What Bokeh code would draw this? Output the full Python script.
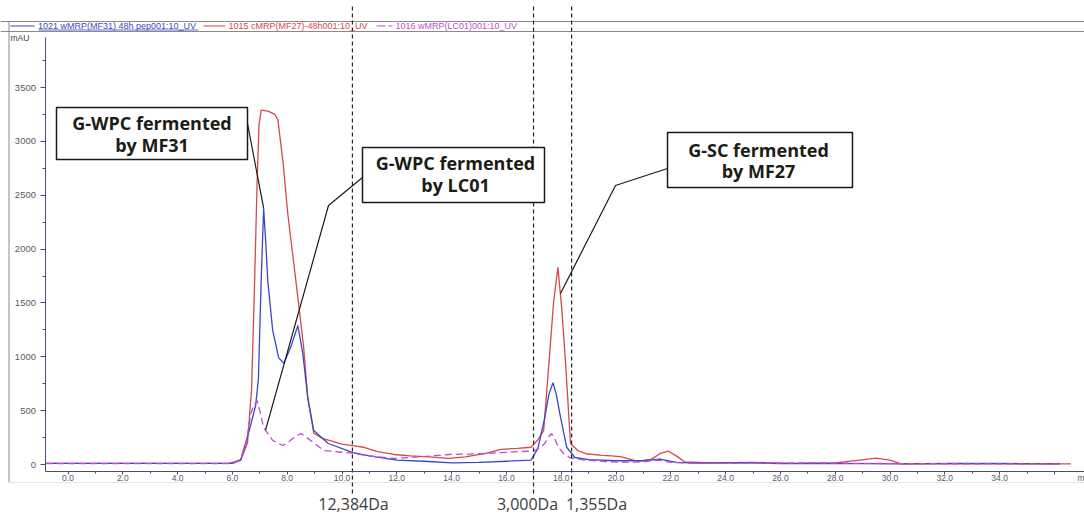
import numpy as np
from bokeh.plotting import figure
from bokeh.models import Range1d, LinearAxis, FixedTicker, PrintfTickFormatter
from bokeh.core.properties import value
from bokeh.embed import file_html
from bokeh.resources import INLINE

# ---------------- data ----------------
series_names = ["1021 wMRP(MF31) 48h pep001:10_UV",
                "1015 cMRP(MF27)-48h001:10_UV",
                "1016 wMRP(LC01)001:10_UV"]

mf31_time = [-0.8, 5.9, 6.3, 6.6, 6.85, 6.95, 7.05, 7.14, 7.22, 7.29, 7.47, 7.69, 7.88,
             8.13, 8.39, 8.57, 8.75, 8.97, 9.5, 10.4, 11.0, 12.0, 13.0, 14.0, 15.0, 16.0,
             16.9, 17.15, 17.4, 17.55, 17.7, 17.82, 17.95, 18.2, 18.5, 19.0, 20.0, 21.0,
             21.6, 22.2, 23.0, 24.7, 26.0, 27.4, 29.0, 30.5, 32.2, 34.1, 36.2]
mf31_mau = [10, 10, 40, 300, 550, 800, 1700, 2380, 2050, 1710, 1245, 990, 940,
            1090, 1290, 1030, 620, 315, 195, 110, 80, 40, 30, 15, 20, 30,
            40, 150, 436, 650, 760, 650, 473, 160, 65, 45, 35, 35,
            50, 20, 12, 18, 8, 10, 8, 5, 10, 10, 5]

mf27_time = [-0.8, 6.0, 6.3, 6.55, 6.7, 6.8, 6.9, 6.97, 7.05, 7.3, 7.55, 7.66, 7.85,
             8.02, 8.2, 8.39, 8.6, 8.75, 8.97, 9.3, 9.6, 10.0, 10.4, 10.8, 11.3, 11.9,
             12.5, 13.2, 13.9, 14.5, 15.2, 15.8, 16.4, 16.9, 17.15, 17.36, 17.54, 17.72,
             17.88, 18.02, 18.16, 18.34, 18.6, 18.9, 19.5, 19.85, 20.2, 20.8, 21.3, 21.6,
             21.9, 22.2, 22.5, 23.5, 25.0, 26.5, 28.0, 28.9, 29.5, 30.0, 30.4, 32.0,
             34.0, 36.6]
mf27_mau = [10, 10, 40, 200, 700, 1600, 2600, 3150, 3290, 3280, 3250, 3200, 2800,
            2330, 1950, 1550, 1090, 620, 290, 240, 220, 190, 176, 160, 120, 93,
            80, 70, 56, 70, 100, 140, 150, 160, 230, 315, 900, 1500,
            1830, 1450, 940, 195, 130, 100, 85, 80, 70, 30, 50, 100,
            125, 80, 25, 15, 20, 10, 15, 40, 60, 40, 5, 8,
            5, 5]

lc01_time = [-0.8, 6.0, 6.3, 6.5, 6.67, 6.8, 6.9, 7.0, 7.14, 7.47, 7.84, 8.05, 8.25,
             8.5, 8.86, 9.34, 10.3, 11.0, 11.9, 12.8, 13.9, 15.0, 15.8, 16.5, 17.0,
             17.25, 17.4, 17.55, 17.65, 17.78, 17.9, 18.1, 18.3, 18.7, 19.5, 20.2,
             21.0, 21.5, 22.0, 23.0, 25.0, 27.4, 29.0, 31.0, 34.0, 36.2]
lc01_mau = [8, 8, 50, 200, 470, 560, 594, 500, 344, 223, 176, 210, 250,
            288, 223, 130, 107, 80, 56, 70, 93, 100, 110, 120, 125,
            160, 195, 260, 288, 230, 158, 100, 65, 45, 30, 20,
            25, 40, 20, 10, 12, 15, 10, 8, 5, 5]

cutoff_time = [10.38, 16.99, 18.38]
cutoff_labels = ["12,384Da", "3,000Da", "1,355Da"]

x_ticks = list(range(0, 37, 2))
x_minor = list(range(1, 37, 2))
y_ticks = list(range(0, 3501, 500))
y_minor = list(range(250, 3800, 500))

box_texts = [("G-WPC fermented", "by MF31"),
             ("G-WPC fermented", "by LC01"),
             ("G-SC fermented", "by MF27")]

# ---------------- layout helpers (page pixels -> data units) ----------------
W, H = 1084, 515
T0_PX, PX_PER_T = 67.5, 27.4
V0_PX, PX_PER_V = 464.0, 0.10771

def tx(px):
    return (px - T0_PX) / PX_PER_T

def vy(py):
    return (V0_PX - py) / PX_PER_V

BLUE, RED, MAG = "#3b47c4", "#d4484e", "#c54ad0"

p = figure(width=W, height=H, output_backend="svg", toolbar_location=None,
           x_range=Range1d(tx(0), tx(W)), y_range=Range1d(vy(H), vy(0)),
           x_axis_location=None, y_axis_location=None, min_border=0)
p.outline_line_color = None
p.grid.grid_line_color = None
p.background_fill_color = "white"
p.border_fill_color = "white"

axis_col = "#4a4a7c"
lab_col = "#5a5a66"
xaxis = LinearAxis(fixed_location=vy(470.5), bounds=(tx(45), tx(1084)),
                   ticker=FixedTicker(ticks=x_ticks, minor_ticks=x_minor),
                   formatter=PrintfTickFormatter(format="%.1f"),
                   major_label_overrides={36: ""})
xaxis.axis_line_color = axis_col
xaxis.major_tick_line_color = axis_col
xaxis.minor_tick_line_color = axis_col
xaxis.major_tick_out = 3
xaxis.major_tick_in = 0
xaxis.minor_tick_out = 2
xaxis.minor_tick_in = 0
xaxis.major_label_standoff = 1
xaxis.major_label_text_font = "Liberation Sans"
xaxis.major_label_text_font_size = "8.5px"
xaxis.major_label_text_color = lab_col
p.add_layout(xaxis, "below")

yaxis = LinearAxis(fixed_location=tx(44.5), bounds=(vy(470.5), vy(37)),
                   ticker=FixedTicker(ticks=y_ticks, minor_ticks=y_minor))
yaxis.axis_line_color = axis_col
yaxis.major_tick_line_color = axis_col
yaxis.minor_tick_line_color = axis_col
yaxis.major_tick_out = 5
yaxis.major_tick_in = 0
yaxis.minor_tick_out = 3
yaxis.minor_tick_in = 0
yaxis.major_label_standoff = 4
yaxis.major_label_text_font = "Liberation Sans"
yaxis.major_label_text_font_size = "9.5px"
yaxis.major_label_text_color = lab_col
p.add_layout(yaxis, "left")

# frame lines around header
p.segment(x0=[tx(0), tx(0)], y0=[vy(21), vy(31)], x1=[tx(W), tx(W)], y1=[vy(21), vy(31)],
          line_color="#8a8a8a", line_width=1)
p.segment(x0=[tx(8.5)], y0=[vy(21)], x1=[tx(8.5)], y1=[vy(482)], line_color="#8a8a8a", line_width=1)
p.segment(x0=[tx(8)], y0=[vy(482)], x1=[tx(W)], y1=[vy(482)], line_color="#e6e6e6", line_width=1)

# curves
p.line(mf27_time, mf27_mau, line_color=RED, line_width=1.3)
p.line(mf31_time, mf31_mau, line_color=BLUE, line_width=1.3)
p.line(lc01_time, lc01_mau, line_color=MAG, line_width=1.3, line_dash="7 4")

# cutoff dashed lines
n = len(cutoff_time)
p.segment(x0=cutoff_time, y0=[vy(493)] * n, x1=cutoff_time, y1=[vy(4)] * n,
          line_color="#222222", line_width=1.2, line_dash="4 3")
lab_px = [353, 527, 596]
p.text(x=[tx(v) for v in lab_px], y=[vy(503)] * n, text=cutoff_labels,
       text_align="center", text_baseline="middle",
       text_font=value("Open Sans"), text_font_size="16px", text_color="#3c3c3c")

# header legend
hy = vy(25.5)
p.segment(x0=[tx(10)], y0=[hy], x1=[tx(34)], y1=[hy], line_color=BLUE, line_width=1)
p.segment(x0=[tx(38)], y0=[vy(29.5)], x1=[tx(198)], y1=[vy(29.5)], line_color=BLUE, line_width=0.8)
p.segment(x0=[tx(203)], y0=[hy], x1=[tx(225)], y1=[hy], line_color=RED, line_width=1)
p.segment(x0=[tx(376)], y0=[hy], x1=[tx(392)], y1=[hy], line_color=MAG, line_width=1, line_dash="9 3")
for txt, xs, col in zip(series_names, [37.5, 228, 395], [BLUE, RED, MAG]):
    p.text(x=[tx(xs)], y=[hy], text=[txt], text_align="left", text_baseline="middle",
           text_font=value("Liberation Sans"), text_font_size="9px", text_color=col)

p.text(x=[tx(10)], y=[vy(37.5)], text=["mAU"], text_align="left", text_baseline="middle",
       text_font=value("Liberation Sans"), text_font_size="8.5px", text_color="#444444")
p.text(x=[tx(1077)], y=[vy(477.5)], text=["m"], text_align="left", text_baseline="middle",
       text_font=value("Liberation Sans"), text_font_size="8.5px", text_color=lab_col)

# leader lines (end points on the curves)
def on_curve(t, ts, vs):
    return float(np.interp(t, ts, vs))

peak_t = mf31_time[int(np.argmax(mf31_mau))]
l1x = [tx(247), peak_t]
l1y = [vy(123), on_curve(peak_t, mf31_time, mf31_mau)]
l2x = [tx(362), tx(328), 7.21]
l2y = [vy(177), vy(205), on_curve(7.21, lc01_time, lc01_mau)]
l3x = [tx(667), tx(615), 17.97]
l3y = [vy(168), vy(185), on_curve(17.97, mf27_time, mf27_mau)]
for xs, ys in [(l1x, l1y), (l2x, l2y), (l3x, l3y)]:
    p.line(xs, ys, line_color="#1a1a1a", line_width=1.2)

# annotation boxes
boxes = [(56, 107, 247, 159), (362, 147, 544, 202), (667, 132, 852, 187)]
p.quad(left=[tx(b[0]) for b in boxes], right=[tx(b[2]) for b in boxes],
       top=[vy(b[1]) for b in boxes], bottom=[vy(b[3]) for b in boxes],
       fill_color="white", line_color="#1a1a1a", line_width=1.5)
line1_y = [122.5, 162, 149]
line2_y = [144, 184, 170]
cx = [151.5, 455, 758]
for (a, b), x, y1, y2 in zip(box_texts, cx, line1_y, line2_y):
    p.text(x=[tx(x), tx(x)], y=[vy(y1), vy(y2)], text=[a, b],
           text_align="center", text_baseline="middle",
           text_font=value("Open Sans"), text_font_style="bold",
           text_font_size="18px", text_color="#1c1c16")

open("out.html", "w").write(file_html(p, INLINE))
